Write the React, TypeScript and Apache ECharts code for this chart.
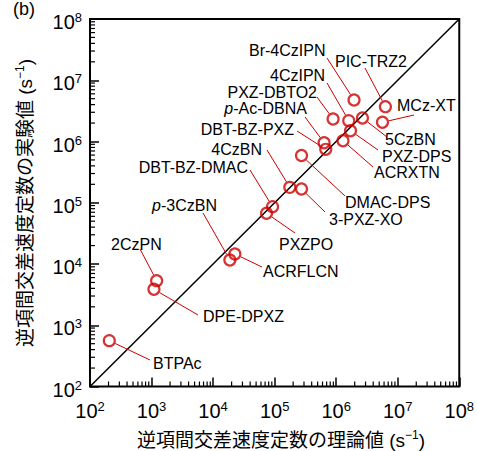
import React, { useEffect, useRef } from 'react';
import * as echarts from 'echarts';

// ---- data ----
const compounds = [
  'BTPAc', '2CzPN', 'DPE-DPXZ', 'p-3CzBN', 'ACRFLCN', 'DBT-BZ-DMAC', 'PXZPO', '4CzBN',
  '3-PXZ-XO', 'DMAC-DPS', 'p-Ac-DBNA', 'DBT-BZ-PXZ', 'PXZ-DBTO2', '4CzIPN', '5CzBN',
  'PXZ-DPS', 'ACRXTN', 'Br-4CzIPN', 'PIC-TRZ2', 'MCz-XT',
];
const theoretical = [
  206, 1210, 1094, 18740, 22590, 92470, 73900, 176500,
  273400, 273400, 636400, 677700, 891000, 1.6e6, 2.67e6,
  1.71e6, 1.29e6, 1.95e6, 6.31e6, 5.65e6,
];
const experimental = [
  560, 5340, 3865, 11620, 14560, 86260, 67300, 178600,
  167500, 590600, 955000, 746000, 2.33e6, 2.19e6, 2.42e6,
  1.5e6, 1.03e6, 4.76e6, 3.7e6, 2.06e6,
];
const axisMin = 100;
const axisMax = 1e8;
const minorMultipliers = [2, 3, 4, 5, 6, 7, 8, 9];
const decades = [2, 3, 4, 5, 6, 7];
const xTitle = '逆項間交差速度定数の理論値 (s';
const yTitle = '逆項間交差速度定数の実験値 (s';
const panelLabel = '(b)';

// ---- label layout (pixel positions of annotation texts) ----
const labelX = [153, 111, 203, 217, 263, 248, 279, 262, 329, 345, 307, 294, 317, 270, 385, 382, 374, 249, 335, 397];
const labelY = [363, 244, 316, 205, 271, 167, 244, 149, 219, 202, 108, 129, 92, 75, 139, 156, 172, 50, 61, 105];
const labelAlign = ['left', 'left', 'left', 'right', 'left', 'right', 'left', 'right', 'left', 'left', 'right', 'right', 'right', 'left', 'left', 'left', 'left', 'left', 'left', 'left'];
const leaderX = [150, 140, 198, 203, 262, 250, 295, 267, 325, 345, 305, 297, 317, 327, 387, 378, 373, 327, 365, 414];
const leaderY = [360, 249, 315, 213, 267, 170, 233, 150, 212, 196, 117, 131, 97, 83, 137, 150, 167, 58, 68, 115];

const RED = '#cc0000';
const SANS = '"Liberation Sans", Arial, Helvetica, sans-serif';
const CJK = '"Liberation Sans", "Noto Sans CJK JP", sans-serif';

const minorValues: number[] = [];
decades.forEach((d) => minorMultipliers.forEach((m) => minorValues.push(m * Math.pow(10, d))));

const tickFormatter = (v: number) => `{b|10}{s|${Math.round(Math.log10(v))}}`;
const tickRich = {
  b: { fontSize: 20, fontFamily: SANS, color: '#000', lineHeight: 22 },
  s: { fontSize: 13, fontFamily: SANS, color: '#000', lineHeight: 13, verticalAlign: 'top' },
};

function labelText(name: string) {
  if (name.startsWith('p-')) return `{i|p}-${name.slice(2)}`;
  return name;
}

export default function App() {
  const ref = useRef<HTMLDivElement>(null);
  useEffect(() => {
    if (!ref.current) return;
    const chart = echarts.init(ref.current, undefined, { renderer: 'svg' });
    const points = compounds.map((n, i) => [theoretical[i], experimental[i], i]);
    const titleRich = {
      n: { fontSize: 19, fontFamily: CJK, fill: '#000', lineHeight: 22 },
      s: { fontSize: 12, fontFamily: SANS, fill: '#000', lineHeight: 13, verticalAlign: 'top' },
    };
    const option: any = {
      animation: false,
      backgroundColor: '#fff',
      grid: { left: 90, top: 19, right: 17.5, bottom: 64.5, show: true, borderColor: '#000', borderWidth: 2, backgroundColor: 'transparent' },
      xAxis: {
        type: 'log', logBase: 10, min: axisMin, max: axisMax, splitNumber: 6,
        axisLine: { show: false },
        axisTick: { show: true, inside: true, length: 9, lineStyle: { color: '#000', width: 1.5 } },
        splitLine: { show: false },
        axisLabel: { formatter: tickFormatter, rich: tickRich, margin: 13 },
      },
      yAxis: {
        type: 'log', logBase: 10, min: axisMin, max: axisMax, splitNumber: 6,
        axisLine: { show: false },
        axisTick: { show: true, inside: true, length: 9, lineStyle: { color: '#000', width: 1.5 } },
        splitLine: { show: false },
        axisLabel: { formatter: tickFormatter, rich: tickRich, margin: 8, padding: [6, 0, 0, 0] },
      },
      graphic: [
        { type: 'text', x: 13, y: 0, style: { text: panelLabel, fontSize: 18, fontFamily: SANS, fill: '#000', align: 'left', verticalAlign: 'top' } },
        {
          type: 'text', x: 281, y: 440,
          style: { text: `{n|${xTitle}}{s|−1}{n|)}`, align: 'center', verticalAlign: 'middle', rich: titleRich },
        },
        {
          type: 'text', x: 25, y: 203, rotation: Math.PI / 2,
          style: { text: `{n|${yTitle}}{s|−1}{n|)}`, align: 'center', verticalAlign: 'middle', rich: titleRich },
        },
      ],
      series: [
        {
          type: 'custom', name: 'minorTicks', silent: true,
          data: minorValues.map((v) => [v]),
          renderItem: (params: any, api: any) => {
            const v = api.value(0);
            const cs = params.coordSys;
            const px = api.coord([v, axisMin])[0];
            const py = api.coord([axisMin, v])[1];
            const bottom = cs.y + cs.height;
            const left = cs.x;
            return {
              type: 'group',
              children: [
                { type: 'line', shape: { x1: px, y1: bottom, x2: px, y2: bottom - 5 }, style: { stroke: '#000', lineWidth: 1.2 } },
                { type: 'line', shape: { x1: left, y1: py, x2: left + 5, y2: py }, style: { stroke: '#000', lineWidth: 1.2 } },
              ],
            };
          },
          z: 1,
        },
        {
          type: 'line', name: 'parity', data: [[axisMin, axisMin], [axisMax, axisMax]],
          symbol: 'none', lineStyle: { color: '#000', width: 1.5 }, z: 2, silent: true,
        },
        {
          type: 'custom', name: 'leaders', silent: true,
          data: points,
          renderItem: (params: any, api: any) => {
            const i = api.value(2);
            const p = api.coord([api.value(0), api.value(1)]);
            const sx = leaderX[i], sy = leaderY[i];
            const dx = sx - p[0], dy = sy - p[1];
            const d = Math.hypot(dx, dy) || 1;
            const ex = p[0] + (dx / d) * 6.5, ey = p[1] + (dy / d) * 6.5;
            return {
              type: 'group',
              children: [
                { type: 'line', shape: { x1: sx, y1: sy, x2: ex, y2: ey }, style: { stroke: RED, lineWidth: 1 } },
                {
                  type: 'text', x: labelX[i], y: labelY[i],
                  style: {
                    text: labelText(compounds[i]), fontSize: 16, fontFamily: SANS, fill: '#000',
                    align: labelAlign[i], verticalAlign: 'middle',
                    rich: { i: { fontStyle: 'italic', fontSize: 16, fontFamily: SANS, fill: '#000' } },
                  },
                },
              ],
            };
          },
          z: 3,
        },
        {
          type: 'scatter', name: 'rates', data: points,
          symbol: 'circle', symbolSize: 11,
          itemStyle: { color: 'rgba(0,0,0,0)', borderColor: RED, borderWidth: 2.2 },
          z: 4,
        },
      ],
    };
    chart.setOption(option);
    return () => chart.dispose();
  }, []);
  return <div ref={ref} style={{ position: 'fixed', left: 0, top: 0, width: 477, height: 451, background: '#fff' }} />;
}
